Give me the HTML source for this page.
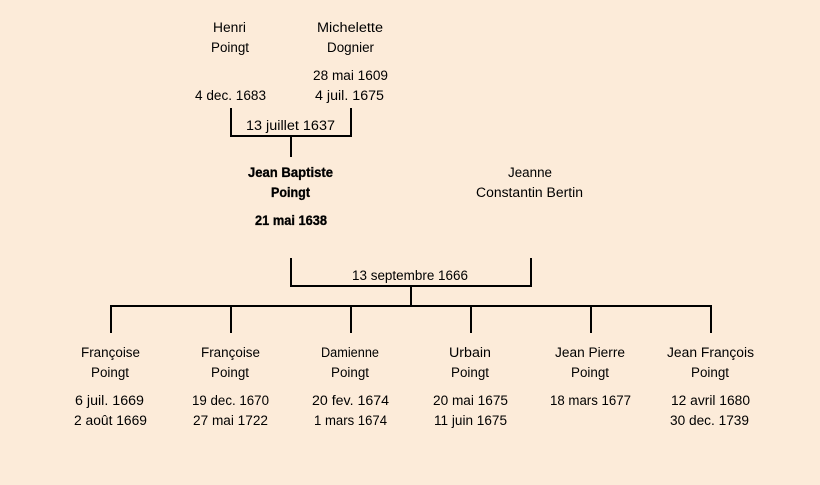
<!DOCTYPE html>
<html lang="fr">
<head>
<meta charset="utf-8">
<title>Jean Baptiste Poingt</title>
<style>
html,body{margin:0;padding:0;background:#fcebd9;}
svg{display:block;}
text{font-family:"Liberation Sans",sans-serif;font-size:13.5px;fill:#000;}
.b{font-weight:bold;fill:#000;stroke:#000;stroke-width:0.3px;}
</style>
</head>
<body>
<svg width="820" height="485" viewBox="0 0 820 485" xmlns="http://www.w3.org/2000/svg">
<rect width="820" height="485" fill="#fcebd9"/>
<g fill="none" stroke="#000" stroke-width="2">
<path d="M231 108V136H351V108M291 136V157"/>
<path d="M291 258V286H531V258M411 286V306"/>
<path d="M111 333V306H711V333M231 306V333M351 306V333M471 306V333M591 306V333"/>
</g>
<g>
<text x="213" y="32" textLength="33" lengthAdjust="spacingAndGlyphs">Henri</text>
<text x="211" y="52" textLength="38" lengthAdjust="spacingAndGlyphs">Poingt</text>
<text x="317" y="32" textLength="66" lengthAdjust="spacingAndGlyphs">Michelette</text>
<text x="327" y="52" textLength="47" lengthAdjust="spacingAndGlyphs">Dognier</text>
<text x="313" y="80" textLength="75" lengthAdjust="spacingAndGlyphs">28 mai 1609</text>
<text x="195" y="100" textLength="71" lengthAdjust="spacingAndGlyphs">4 dec. 1683</text>
<text x="315" y="100" textLength="69" lengthAdjust="spacingAndGlyphs">4 juil. 1675</text>
<text x="246" y="130" textLength="89" lengthAdjust="spacingAndGlyphs">13 juillet 1637</text>
<text class="b" x="248" y="177" textLength="85" lengthAdjust="spacingAndGlyphs">Jean Baptiste</text>
<text class="b" x="271" y="197" textLength="39" lengthAdjust="spacingAndGlyphs">Poingt</text>
<text class="b" x="255" y="225" textLength="72" lengthAdjust="spacingAndGlyphs">21 mai 1638</text>
<text x="508" y="177" textLength="44" lengthAdjust="spacingAndGlyphs">Jeanne</text>
<text x="476" y="197" textLength="107" lengthAdjust="spacingAndGlyphs">Constantin Bertin</text>
<text x="352" y="280" textLength="116" lengthAdjust="spacingAndGlyphs">13 septembre 1666</text>

<text x="81" y="357" textLength="59" lengthAdjust="spacingAndGlyphs">Françoise</text>
<text x="91" y="377" textLength="38" lengthAdjust="spacingAndGlyphs">Poingt</text>
<text x="75" y="405" textLength="69" lengthAdjust="spacingAndGlyphs">6 juil. 1669</text>
<text x="74" y="425" textLength="73" lengthAdjust="spacingAndGlyphs">2 août 1669</text>

<text x="201" y="357" textLength="59" lengthAdjust="spacingAndGlyphs">Françoise</text>
<text x="211" y="377" textLength="38" lengthAdjust="spacingAndGlyphs">Poingt</text>
<text x="192" y="405" textLength="77" lengthAdjust="spacingAndGlyphs">19 dec. 1670</text>
<text x="193" y="425" textLength="75" lengthAdjust="spacingAndGlyphs">27 mai 1722</text>

<text x="321" y="357" textLength="58" lengthAdjust="spacingAndGlyphs">Damienne</text>
<text x="331" y="377" textLength="38" lengthAdjust="spacingAndGlyphs">Poingt</text>
<text x="312" y="405" textLength="77" lengthAdjust="spacingAndGlyphs">20 fev. 1674</text>
<text x="314" y="425" textLength="73" lengthAdjust="spacingAndGlyphs">1 mars 1674</text>

<text x="449" y="357" textLength="42" lengthAdjust="spacingAndGlyphs">Urbain</text>
<text x="451" y="377" textLength="38" lengthAdjust="spacingAndGlyphs">Poingt</text>
<text x="433" y="405" textLength="75" lengthAdjust="spacingAndGlyphs">20 mai 1675</text>
<text x="434" y="425" textLength="73" lengthAdjust="spacingAndGlyphs">11 juin 1675</text>

<text x="555" y="357" textLength="70" lengthAdjust="spacingAndGlyphs">Jean Pierre</text>
<text x="571" y="377" textLength="38" lengthAdjust="spacingAndGlyphs">Poingt</text>
<text x="550" y="405" textLength="81" lengthAdjust="spacingAndGlyphs">18 mars 1677</text>

<text x="667" y="357" textLength="87" lengthAdjust="spacingAndGlyphs">Jean François</text>
<text x="691" y="377" textLength="38" lengthAdjust="spacingAndGlyphs">Poingt</text>
<text x="671" y="405" textLength="79" lengthAdjust="spacingAndGlyphs">12 avril 1680</text>
<text x="670" y="425" textLength="79" lengthAdjust="spacingAndGlyphs">30 dec. 1739</text>
</g>
</svg>
</body>
</html>
